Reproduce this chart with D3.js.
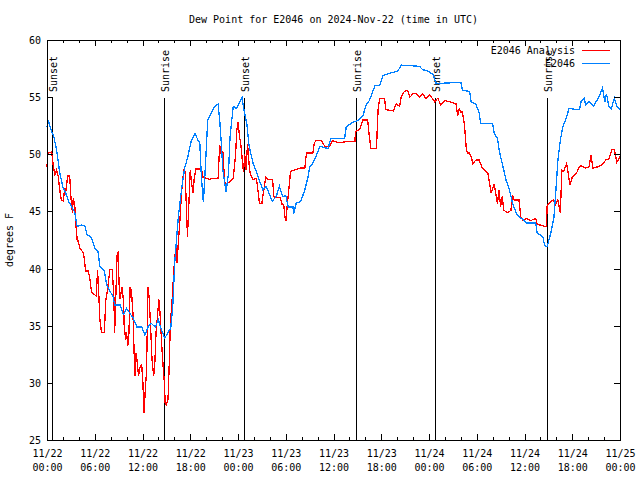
<!DOCTYPE html>
<html>
<head>
<meta charset="utf-8">
<script src="https://cdn.jsdelivr.net/npm/d3@7"></script>
<style>
  body { margin: 0; background: #fff; }
  svg { display: block; }
  text { font-family: "DejaVu Sans Mono", "Liberation Mono", monospace; font-size: 10px; fill: #000; }
</style>
</head>
<body>
<svg id="chart" width="640" height="480"></svg>
<script>
// ---- data (hours since 2024-11-22 00:00 UTC) ----
const analysisHours = [0,0.1,0.6,0.8,1.0,1.2,1.4,1.6,1.8,2.05,2.2,2.35,2.6,2.85,3.0,3.2,3.3,3.5,3.65,3.8,3.95,4.1,4.55,4.7,4.85,5.2,5.4,5.6,6.0,6.2,6.35,6.5,6.65,6.85,7.2,7.4,7.6,7.9,8.2,8.4,8.5,8.6,8.8,8.95,9.05,9.2,9.4,9.6,9.7,9.9,10.0,10.15,10.3,10.45,10.6,10.8,10.95,11.05,11.2,11.35,11.5,11.7,11.9,12.05,12.2,12.35,12.5,12.7,12.85,13.05,13.2,13.4,13.55,13.7,13.9,14.05,14.2,14.3,14.45,14.6,14.75,14.85,15.0,15.2,15.35,15.5,15.7,15.85,16.0,16.2,16.35,16.5,16.7,16.85,17.0,17.2,17.35,17.5,17.65,17.85,18.0,18.2,18.35,18.5,18.7,19.4,19.6,20.0,20.4,20.9,21.5,21.7,21.9,22.1,22.3,22.5,22.7,23.0,23.4,23.7,23.85,24.0,24.2,24.35,24.5,24.6,24.7,24.85,25.0,25.2,25.45,25.7,25.9,26.3,26.5,26.7,27.0,27.2,27.5,27.8,28.35,28.5,28.8,29.3,29.55,29.75,29.9,30.05,30.2,30.35,30.6,31.8,32.4,32.6,33.4,33.6,33.8,34.5,34.9,35.5,35.9,36.6,37.6,38.7,38.75,39.3,39.7,40.3,40.5,40.7,41.4,41.6,41.8,42.4,42.6,43.5,43.9,44.3,44.5,44.9,45.3,45.6,46.0,46.4,46.8,47.2,47.6,48.1,48.7,49.1,49.5,50.0,50.6,51.4,51.6,51.8,52.0,52.2,52.45,52.7,52.9,53.1,53.3,53.5,53.9,54.3,54.7,55.4,55.6,55.8,56.2,56.6,56.8,57.0,57.2,57.4,57.9,58.3,58.5,58.7,59.3,59.55,59.8,60.2,60.8,61.4,61.6,62.0,62.5,62.75,62.85,63.2,63.6,63.9,64.2,64.5,64.7,64.9,65.3,65.5,65.7,66.0,66.5,66.9,67.1,67.7,68.1,68.35,68.6,69.2,69.8,70.2,70.6,71.0,71.3,71.6,72.0];
const analysisDew = [48.9,50.1,50.2,48.9,48.2,48.6,48.1,46.9,46.0,45.9,46.9,46.7,48.1,48.1,46.3,44.9,46.2,45.4,43.7,42.4,42.4,41.8,41.4,40.8,39.8,39.8,39.0,37.9,37.7,37.6,39.9,37.9,35.5,34.4,34.4,37.3,38.1,39.9,39.9,37.6,34.4,36.4,41.1,41.5,38.7,37.3,38.4,37.3,34.9,33.8,34.4,33.2,34.4,38.4,38.1,36.1,32.6,30.6,32.6,31.7,30.6,31.4,31.6,30.0,27.4,29.4,30.9,38.4,37.3,34.4,32.0,30.6,31.7,34.4,36.0,37.3,36.1,34.9,32.9,31.4,30.0,28.2,28.1,28.5,31.4,35.2,37.0,38.8,40.5,42.0,40.5,42.3,44.2,46.0,47.5,48.6,48.5,45.7,42.8,46.0,48.6,47.3,46.6,47.9,48.7,48.7,48.0,47.9,47.8,47.9,47.9,50.8,50.0,50.2,47.8,46.9,47.5,47.6,47.9,50.0,52.1,52.8,51.5,50.9,49.8,48.9,48.5,50.0,48.6,50.9,48.6,48.0,47.8,47.9,46.9,45.7,45.7,46.7,48.0,47.8,47.8,46.3,46.2,46.2,45.6,45.6,44.5,44.2,45.7,46.6,48.5,48.8,48.8,50.1,50.1,51.0,51.2,51.2,50.7,50.7,51.2,51.0,51.1,51.1,52.0,52.2,53.0,53.0,51.6,50.5,50.5,53.9,54.9,54.9,53.9,53.8,54.4,54.2,55.0,55.5,55.6,55.0,55.3,55.3,55.0,55.3,54.9,55.2,54.6,54.9,54.3,54.7,54.6,54.4,53.4,54.0,53.7,53.7,52.6,50.4,50.1,50.1,49.8,49.2,49.5,49.5,48.8,48.3,47.5,46.6,47.4,45.7,46.9,45.4,46.3,45.1,44.9,45.1,46.4,46.0,46.0,44.5,44.2,44.4,44.2,44.4,43.9,43.8,43.7,43.7,45.5,45.8,46.0,45.6,46.0,44.9,48.6,48.5,49.2,48.3,47.3,48.0,48.3,48.9,49.0,48.8,48.9,49.9,48.8,48.9,49.1,49.5,49.6,50.4,50.4,49.3,49.8];

const stationHours = [0,0.15,0.3,0.6,0.9,1.2,1.4,1.6,1.85,2.05,2.35,2.7,3.1,3.5,3.75,3.9,4.35,4.8,5.0,5.6,6.0,6.4,6.65,7.2,7.5,7.9,8.3,8.5,9.2,9.6,10.0,10.4,10.8,11.3,11.9,12.3,12.7,13.1,13.6,14.0,14.4,14.8,15.2,15.55,15.8,16.05,16.3,16.5,16.9,17.3,17.7,18.1,18.6,19.0,19.2,19.4,19.65,19.85,20.2,20.7,21.1,21.5,21.7,21.9,22.1,22.5,22.8,23.0,23.4,23.8,24.2,24.5,24.8,25.1,25.4,25.9,26.3,26.7,27.1,27.5,27.9,28.3,28.8,29.2,29.6,30.0,30.3,30.9,31.0,31.3,31.9,32.4,32.8,33.0,33.4,33.8,34.3,35.3,35.7,37.4,37.6,38.2,39.1,39.7,40.1,40.5,41.2,41.8,42.2,44.1,44.5,46.8,47.2,47.8,48.5,48.9,49.3,52.0,52.2,53.1,53.3,53.9,54.3,54.5,56.0,56.2,56.6,56.8,57.3,57.7,58.1,58.5,59.0,59.4,60.0,60.2,61.4,61.6,62.3,62.5,62.8,62.95,63.3,63.7,63.95,64.2,64.5,64.8,65.2,65.6,66.9,67.1,67.5,67.7,68.1,68.7,69.0,69.4,69.8,70.1,70.3,70.6,70.9,71.3,71.6,72.0];
const stationDew = [52.4,53.0,52.6,52.0,51.4,50.4,49.4,48.4,47.6,47.0,46.6,45.9,45.4,44.9,43.8,43.7,43.8,43.7,43.0,42.7,41.8,41.5,40.2,39.8,38.6,38.0,37.6,36.8,36.8,36.0,36.5,36.1,35.7,34.9,34.9,34.2,34.9,35.2,34.9,35.5,34.6,33.9,34.4,34.8,36.7,40.5,42.8,44.5,46.9,48.8,49.8,51.1,51.8,51.2,51.0,48.0,45.8,48.3,53.0,53.7,54.2,54.4,53.0,51.0,48.6,46.7,48.3,51.5,54.2,54.0,54.5,55.0,53.7,52.7,50.7,49.2,48.5,47.7,46.9,47.2,46.6,45.9,46.3,47.2,46.3,46.4,45.4,45.4,44.8,45.7,45.9,46.9,48.0,48.9,49.2,49.8,50.7,50.5,51.4,51.4,52.4,52.7,53.0,53.4,54.3,54.7,56.0,56.0,56.9,57.3,57.8,57.7,57.4,57.3,57.0,56.2,56.2,56.3,55.6,55.5,54.6,54.4,53.6,52.7,52.7,51.8,51.4,50.4,48.9,47.7,46.9,45.7,44.8,44.5,44.2,44.0,44.0,43.1,42.8,42.1,41.9,42.2,43.1,44.5,46.9,49.5,51.2,52.4,53.1,54.0,53.9,54.6,54.9,54.3,54.6,54.2,54.6,55.1,55.8,54.6,55.3,54.2,54.0,54.9,54.2,53.9];

const sunEventHours = [0.67, 14.7, 24.77, 38.78, 48.78, 62.85];
const sunEventLabels = ["Sunset", "Sunrise", "Sunset", "Sunrise", "Sunset", "Sunrise"];

const seriesNames = ["E2046 Analysis", "E2046"];
const seriesColors = ["#ff0000", "#0080ff"];
const yTicks = [25, 30, 35, 40, 45, 50, 55, 60];
const xMajorHours = [0, 6, 12, 18, 24, 30, 36, 42, 48, 54, 60, 66, 72];
const xMinorHours = d3.range(0, 73, 2).filter(h => h % 6 !== 0);
const titleText = "Dew Point for E2046 on 2024-Nov-22 (time in UTC)";
const yLabel = "degrees F";

// ---- layout ----
const L = 47, R = 620, T = 40, B = 440;
const base = Date.UTC(2024, 10, 22);
const toDate = h => new Date(base + h * 3600000);

const x = d3.scaleUtc().domain([toDate(0), toDate(72)]).range([L, R]);
const y = d3.scaleLinear().domain([25, 60]).range([B, T]);

const svg = d3.select("#chart");

// title
svg.append("text").attr("x", (L + R) / 2).attr("y", 23)
  .attr("text-anchor", "middle").text(titleText);

// y label
svg.append("text")
  .attr("transform", `translate(13,${(T + B) / 2}) rotate(-90)`)
  .attr("text-anchor", "middle").text(yLabel);

// sunrise / sunset lines
const sun = svg.append("g");
sunEventHours.forEach((h, i) => {
  const sx = Math.round(x(toDate(h))) + 0.5;
  sun.append("line").attr("x1", sx).attr("x2", sx).attr("y1", 98).attr("y2", B)
    .attr("stroke", "#000").attr("stroke-width", 1).attr("shape-rendering", "crispEdges");
  sun.append("text")
    .attr("transform", `translate(${sx + 4},92) rotate(-90)`)
    .attr("text-anchor", "start").text(sunEventLabels[i]);
});

// data lines
const series = [
  analysisHours.map((h, i) => [toDate(h), analysisDew[i]]),
  stationHours.map((h, i) => [toDate(h), stationDew[i]])
];
const line = d3.line().x(d => x(d[0])).y(d => y(d[1]));
series.forEach((s, i) => {
  svg.append("path").datum(s).attr("d", line)
    .attr("fill", "none").attr("stroke", seriesColors[i]).attr("stroke-width", 1.3)
    .attr("stroke-linejoin", "miter").attr("shape-rendering", "crispEdges");
});

// axes (ticks inward)
const axB = svg.append("g").attr("transform", `translate(0,${B})`)
  .call(d3.axisBottom(x).tickValues(xMajorHours.map(toDate)).tickSizeInner(-6).tickSizeOuter(0).tickFormat(""));
svg.append("g").attr("transform", `translate(0,${T})`)
  .call(d3.axisTop(x).tickValues(xMajorHours.map(toDate)).tickSizeInner(-6).tickSizeOuter(0).tickFormat(""));
svg.append("g").attr("transform", `translate(0,${B})`)
  .call(d3.axisBottom(x).tickValues(xMinorHours.map(toDate)).tickSizeInner(-3).tickSizeOuter(0).tickFormat(""));
svg.append("g").attr("transform", `translate(0,${T})`)
  .call(d3.axisTop(x).tickValues(xMinorHours.map(toDate)).tickSizeInner(-3).tickSizeOuter(0).tickFormat(""));
const axL = svg.append("g").attr("transform", `translate(${L},0)`)
  .call(d3.axisLeft(y).tickValues(yTicks).tickSizeInner(-6).tickSizeOuter(0).tickPadding(12).tickFormat(d3.format("d")));
svg.append("g").attr("transform", `translate(${R},0)`)
  .call(d3.axisRight(y).tickValues(yTicks).tickSizeInner(-6).tickSizeOuter(0).tickFormat(""));

svg.selectAll(".domain").remove();
svg.selectAll(".tick line").attr("stroke", "#000").attr("shape-rendering", "crispEdges");
axL.selectAll(".tick text").attr("font-family", null).attr("font-size", null).attr("fill", "#000").attr("x", -6).attr("dy", "0.35em");

// bottom two-line labels
const fmtD = d3.utcFormat("%m/%d"), fmtT = d3.utcFormat("%H:%M");
axB.selectAll(".tick").each(function(d) {
  const g = d3.select(this);
  g.append("text").attr("y", 17).attr("text-anchor", "middle").text(fmtD(d));
  g.append("text").attr("y", 31).attr("text-anchor", "middle").text(fmtT(d));
});

// frame
svg.append("rect").attr("x", L + 0.5).attr("y", T + 0.5).attr("width", R - L).attr("height", B - T)
  .attr("fill", "none").attr("stroke", "#000").attr("shape-rendering", "crispEdges");

// legend
const leg = svg.append("g");
seriesNames.forEach((n, i) => {
  const ly = 50 + i * 13;
  leg.append("text").attr("x", 575).attr("y", ly).attr("dy", "0.35em").attr("text-anchor", "end").text(n);
  leg.append("line").attr("x1", 582).attr("x2", 610).attr("y1", ly + 0.5).attr("y2", ly + 0.5)
    .attr("stroke", seriesColors[i]).attr("stroke-width", 1.3).attr("shape-rendering", "crispEdges");
});
</script>
</body>
</html>
